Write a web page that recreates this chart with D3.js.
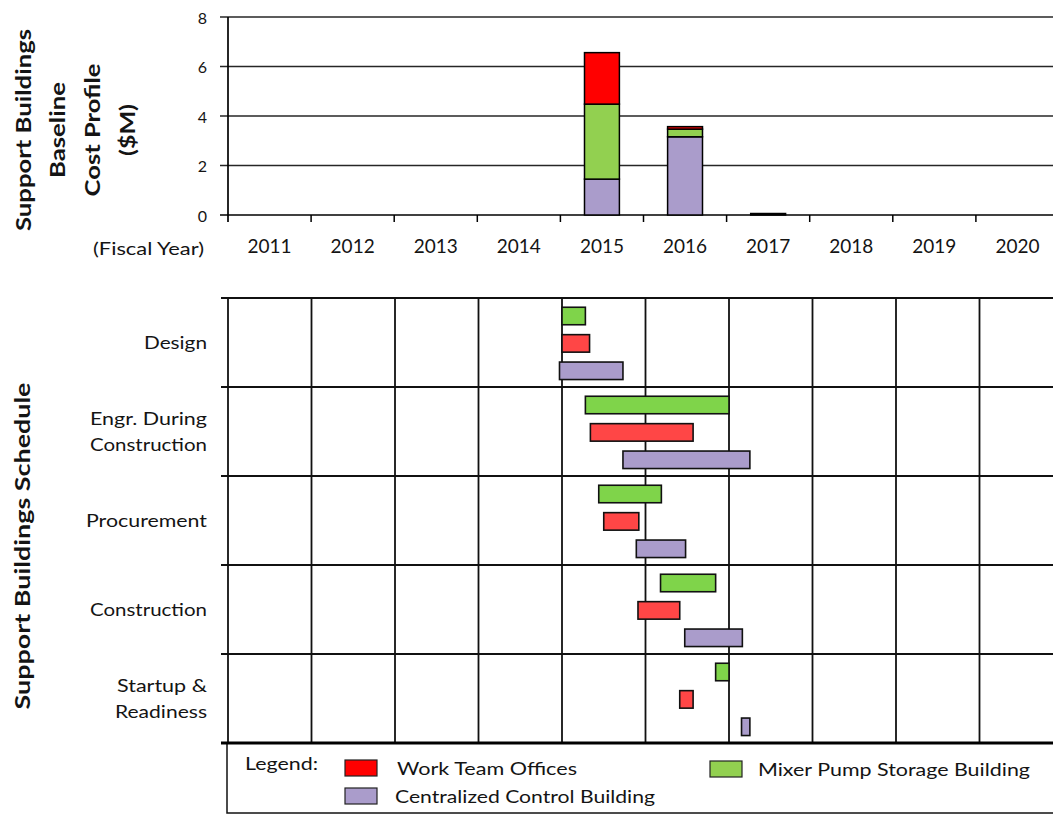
<!DOCTYPE html>
<html>
<head>
<meta charset="utf-8">
<script src="https://cdn.jsdelivr.net/npm/d3@7"></script>
<style>
  body { margin: 0; background: #fff; }
  svg { display: block; }
  text { font-family: Lato, "Open Sans", sans-serif; fill: #141414; }
</style>
</head>
<body>
<svg id="chart" width="1053" height="815"></svg>
<script>
// ---- Cost profile data ($M per fiscal year) ----
const years = ["2011", "2012", "2013", "2014", "2015", "2016", "2017", "2018", "2019", "2020"];
const costTicks = [0, 2, 4, 6, 8];
const costControlBuilding = [0, 0, 0, 0, 1.45, 3.16, 0.06, 0, 0, 0];
const costMixerPump      = [0, 0, 0, 0, 3.03, 0.31, 0, 0, 0, 0];
const costWorkTeam       = [0, 0, 0, 0, 2.08, 0.10, 0, 0, 0, 0];

// ---- Schedule data (fractional fiscal years) ----
const phases = ["Design", "Engr. During Construction", "Procurement", "Construction", "Startup & Readiness"];
const phaseLabelLines = [["Design"], ["Engr. During", "Construction"], ["Procurement"], ["Construction"], ["Startup &", "Readiness"]];
const mixerStart   = [2015.00, 2015.28, 2015.44, 2016.18, 2016.84];
const mixerEnd     = [2015.28, 2017.00, 2016.19, 2016.84, 2017.00];
const workStart    = [2015.00, 2015.34, 2015.50, 2015.91, 2016.41];
const workEnd      = [2015.33, 2016.57, 2015.92, 2016.41, 2016.57];
const controlStart = [2014.97, 2015.73, 2015.89, 2016.47, 2017.15];
const controlEnd   = [2015.73, 2017.25, 2016.48, 2017.16, 2017.25];

const seriesNames = ["Work Team Offices", "Mixer Pump Storage Building", "Centralized Control Building"];

// ---- styling ----
const colors = {
  workBar: "#ff0000", mixerBar: "#92d050", controlBar: "#aa9ccb",
  workGantt: "#ff4646", mixerGantt: "#7fd44a", controlGantt: "#aa9ccb"
};

const svg = d3.select("#chart");
const W = 1053;

function fit(sel, w) {
  return sel.attr("textLength", w).attr("lengthAdjust", "spacingAndGlyphs");
}

// =================== Cost profile ===================
const costArea = { left: 228, right: 1059, y0: 215, y1: 17 };
const xBand = d3.scaleBand().domain(years).range([costArea.left, costArea.right])
  .paddingInner(0.58).paddingOuter(0.29);
const yCost = d3.scaleLinear().domain([0, 8]).range([costArea.y0, costArea.y1]);
const step = xBand.step();
const boundary = i => costArea.left + step * i;

// horizontal gridlines (also act as tick marks on the left)
svg.append("g").selectAll("line").data(costTicks).join("line")
  .attr("x1", 220).attr("x2", W)
  .attr("y1", d => yCost(d)).attr("y2", d => yCost(d))
  .attr("stroke", d => d === 0 ? "#000" : "#262626")
  .attr("stroke-width", 1.7);

// y axis line
svg.append("line").attr("x1", costArea.left).attr("x2", costArea.left)
  .attr("y1", yCost(8)).attr("y2", yCost(0) + 7)
  .attr("stroke", "#000").attr("stroke-width", 1.7);

// x tick marks at year boundaries
svg.append("g").selectAll("line").data(d3.range(1, 10)).join("line")
  .attr("x1", d => boundary(d)).attr("x2", d => boundary(d))
  .attr("y1", yCost(0)).attr("y2", yCost(0) + 7)
  .attr("stroke", "#000").attr("stroke-width", 1.5);

// y tick labels
svg.append("g").selectAll("text").data(costTicks).join("text")
  .attr("x", 207).attr("y", d => yCost(d))
  .attr("text-anchor", "end").attr("dominant-baseline", "central")
  .style("font-size", "16px").text(d => d);

// year labels
svg.append("g").selectAll("text").data(years).join("text")
  .attr("x", d => xBand(d) + xBand.bandwidth() / 2).attr("y", 245)
  .attr("text-anchor", "middle").attr("dominant-baseline", "central")
  .style("font-size", "19px").text(d => d);

svg.append("text").attr("x", 204).attr("y", 248)
  .attr("text-anchor", "end").attr("dominant-baseline", "central")
  .style("font-size", "18px").call(fit, 111).text("(Fiscal Year)");

// stacked bars
const costRows = years.map((y, i) => ({
  year: y, control: costControlBuilding[i], mixer: costMixerPump[i], work: costWorkTeam[i]
}));
const stack = d3.stack().keys(["control", "mixer", "work"])(costRows);
const barFill = { control: colors.controlBar, mixer: colors.mixerBar, work: colors.workBar };
svg.append("g").selectAll("g").data(stack).join("g")
  .attr("fill", d => barFill[d.key])
  .selectAll("rect").data(d => d.filter(p => p[1] - p[0] > 0)).join("rect")
  .attr("x", d => xBand(d.data.year))
  .attr("width", xBand.bandwidth())
  .attr("y", d => yCost(d[1]))
  .attr("height", d => yCost(d[0]) - yCost(d[1]))
  .attr("stroke", "#000").attr("stroke-width", 1.5);

// rotated title block
const costTitles = [
  { text: "Support Buildings", x: 23, w: 202 },
  { text: "Baseline", x: 57, w: 96 },
  { text: "Cost Profile", x: 92, w: 133 },
  { text: "($M)", x: 127, w: 52 }
];
svg.append("g").selectAll("text").data(costTitles).join("text")
  .attr("transform", d => `translate(${d.x},130) rotate(-90)`)
  .attr("text-anchor", "middle").attr("dominant-baseline", "central")
  .style("font-size", "20px").style("font-weight", "700")
  .each(function (d) { fit(d3.select(this), d.w); })
  .text(d => d.text);

// =================== Schedule ===================
const sched = { left: 228, top: 298, bottom: 743 };
const xTime = d3.scaleLinear().domain([2011, 2020]).range([sched.left, 979.5]);
const yPhase = d3.scaleBand().domain(phases).range([sched.top, sched.bottom]);
const ySeries = d3.scalePoint().domain(["mixer", "work", "control"]).range([18, 72.8]);
const barH = 17.5;

// horizontal row lines
svg.append("g").selectAll("line").data(phases).join("line")
  .attr("x1", 221).attr("x2", W)
  .attr("y1", d => yPhase(d)).attr("y2", d => yPhase(d))
  .attr("stroke", "#111").attr("stroke-width", 1.8);

// vertical year lines
svg.append("g").selectAll("line").data(d3.range(2011, 2021)).join("line")
  .attr("x1", d => xTime(d)).attr("x2", d => xTime(d))
  .attr("y1", sched.top).attr("y2", sched.bottom)
  .attr("stroke", "#111").attr("stroke-width", 1.8);

// schedule bars
const ganttRows = [];
phases.forEach((p, i) => {
  ganttRows.push({ phase: p, key: "mixer", s: mixerStart[i], e: mixerEnd[i], fill: colors.mixerGantt });
  ganttRows.push({ phase: p, key: "work", s: workStart[i], e: workEnd[i], fill: colors.workGantt });
  ganttRows.push({ phase: p, key: "control", s: controlStart[i], e: controlEnd[i], fill: colors.controlGantt });
});
svg.append("g").selectAll("rect").data(ganttRows).join("rect")
  .attr("x", d => xTime(d.s))
  .attr("width", d => xTime(d.e) - xTime(d.s))
  .attr("y", d => yPhase(d.phase) + ySeries(d.key) - barH / 2)
  .attr("height", barH)
  .attr("fill", d => d.fill)
  .attr("stroke", "#111").attr("stroke-width", 1.6);

// phase labels
const labelWidths = { "Design": 63, "Engr. During": 117, "Construction": 117, "Procurement": 121, "Startup &": 90, "Readiness": 92 };
const lineGap = 26;
phases.forEach((p, i) => {
  const lines = phaseLabelLines[i];
  const cy = yPhase(p) + yPhase.bandwidth() / 2 - 1;
  lines.forEach((ln, j) => {
    svg.append("text")
      .attr("x", 207)
      .attr("y", cy + (j - (lines.length - 1) / 2) * lineGap)
      .attr("text-anchor", "end").attr("dominant-baseline", "central")
      .style("font-size", "18px")
      .call(fit, labelWidths[ln])
      .text(ln);
  });
});

svg.append("text")
  .attr("transform", "translate(22,546) rotate(-90)")
  .attr("text-anchor", "middle").attr("dominant-baseline", "central")
  .style("font-size", "20px").style("font-weight", "700")
  .call(fit, 327)
  .text("Support Buildings Schedule");

// =================== Legend ===================
svg.append("rect").attr("x", 227).attr("y", 743).attr("width", 840).attr("height", 70)
  .attr("fill", "#fff").attr("stroke", "#111").attr("stroke-width", 1.5);
svg.append("line").attr("x1", 221).attr("x2", W).attr("y1", 743).attr("y2", 743)
  .attr("stroke", "#000").attr("stroke-width", 3);

svg.append("text").attr("x", 245).attr("y", 763).attr("dominant-baseline", "central")
  .style("font-size", "17px").call(fit, 73).text("Legend:");

const legendItems = [
  { name: seriesNames[0], fill: colors.workBar, sx: 345, sy: 760, tx: 397, w: 180 },
  { name: seriesNames[2], fill: colors.controlBar, sx: 345, sy: 788, tx: 395, w: 260 },
  { name: seriesNames[1], fill: colors.mixerBar, sx: 710, sy: 761, tx: 758, w: 272 }
];
const lg = svg.append("g").selectAll("g").data(legendItems).join("g");
lg.append("rect").attr("x", d => d.sx).attr("y", d => d.sy)
  .attr("width", 32).attr("height", 16)
  .attr("fill", d => d.fill).attr("stroke", "#222").attr("stroke-width", 1.2);
lg.append("text").attr("x", d => d.tx).attr("y", d => d.sy + 8)
  .attr("dominant-baseline", "central").style("font-size", "18px")
  .each(function (d) { fit(d3.select(this), d.w); })
  .text(d => d.name);
</script>
</body>
</html>
